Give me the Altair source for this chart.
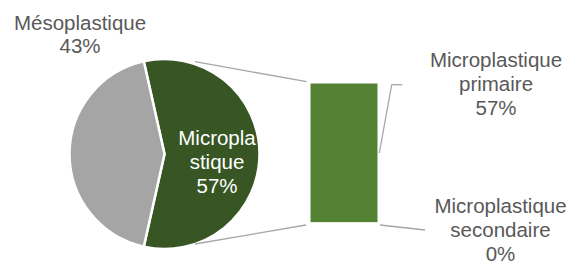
import math
import altair as alt
import pandas as pd

# ---- data ----
pie_categories = ["Microplastique", "Mésoplastique"]
pie_values = [57, 43]
pie_label_names = ["Micropla\nstique", "Mésoplastique"]

bar_categories = ["Microplastique primaire", "Microplastique secondaire"]
bar_values = [57, 0]
bar_label_names = ["Microplastique\nprimaire", "Microplastique\nsecondaire"]

pie_df = pd.DataFrame({
    "cat": pie_categories,
    "value": pie_values,
    "idx": list(range(len(pie_values))),
    "label": [f"{n}\n{v}%" for n, v in zip(pie_label_names, pie_values)],
})
bar_df = pd.DataFrame({
    "cat": bar_categories,
    "value": bar_values,
    "idx": list(range(len(bar_values))),
    "label": [f"{n}\n{v}%" for n, v in zip(bar_label_names, bar_values)],
})

# ---- layout (pixels inside the view) ----
W, H = 567, 256
CX, CY, R = 156.5, 146, 95
BAR_X0, BAR_X1, BAR_TOP, BAR_BOT = 302, 370, 75, 215

GREEN_DARK = "#375623"
GREEN_BAR = "#548235"
GRAY = "#A5A5A5"
TEXT = "#595959"
LINE = "#A6A6A6"
FONT = "Liberation Sans"
FS = 20.5

# the exploded slice is centred on 3 o'clock
share = pie_values[0] / sum(pie_values)
start = math.pi / 2 - math.pi * share + 2 * math.pi

pie = alt.Chart(pie_df).mark_arc(
    x=CX, y=CY, outerRadius=R, stroke="white", strokeWidth=2.5
).encode(
    theta=alt.Theta("value:Q", stack=True,
                    scale=alt.Scale(range=[start, start + 2 * math.pi])),
    color=alt.Color("cat:N", scale=alt.Scale(domain=pie_categories,
                                             range=[GREEN_DARK, GRAY]),
                    legend=None),
    order=alt.Order("idx:Q"),
)

bar = alt.Chart(bar_df).mark_rect(
    color=GREEN_BAR, stroke="white", strokeWidth=1
).encode(
    x=alt.value(BAR_X0), x2=alt.value(BAR_X1),
    y=alt.Y("value:Q", stack="zero",
            scale=alt.Scale(domain=[0, sum(bar_values)], range=[BAR_BOT, BAR_TOP]),
            axis=None),
    order=alt.Order("idx:Q"),
)

dummy = pd.DataFrame({"d": [0]})
segments = [
    (187, 53.7, 298.7, 73.7),
    (187, 236, 298, 217),
    (371.3, 145, 383.7, 76.7),
    (383.7, 76.7, 394.3, 76.7),
    (372, 217, 417, 222),
]
rules = [
    alt.Chart(dummy).mark_rule(color=LINE, strokeWidth=1.3).encode(
        x=alt.value(a), y=alt.value(b), x2=alt.value(c), y2=alt.value(d))
    for a, b, c, d in segments
]


def label(df, cat, x, y, color, lh=24):
    return alt.Chart(df).transform_filter(
        alt.datum.cat == cat
    ).mark_text(
        x=x, y=y, align="center", baseline="alphabetic", lineBreak="\n",
        font=FONT, fontSize=FS, lineHeight=lh, color=color,
    ).encode(text="label:N")


texts = [
    label(pie_df, "Microplastique", 209, 137, "white"),
    label(pie_df, "Mésoplastique", 72, 22, TEXT, lh=22.5),
    label(bar_df, "Microplastique primaire", 488, 59, TEXT),
    label(bar_df, "Microplastique secondaire", 492.5, 205, TEXT),
]

chart = alt.layer(pie, bar, *rules, *texts).properties(
    width=W, height=H, autosize=alt.AutoSizeParams(type="none"), padding=0
).configure_view(stroke=None)

chart.save("out.html", embed_options={"renderer": "svg", "actions": False})
